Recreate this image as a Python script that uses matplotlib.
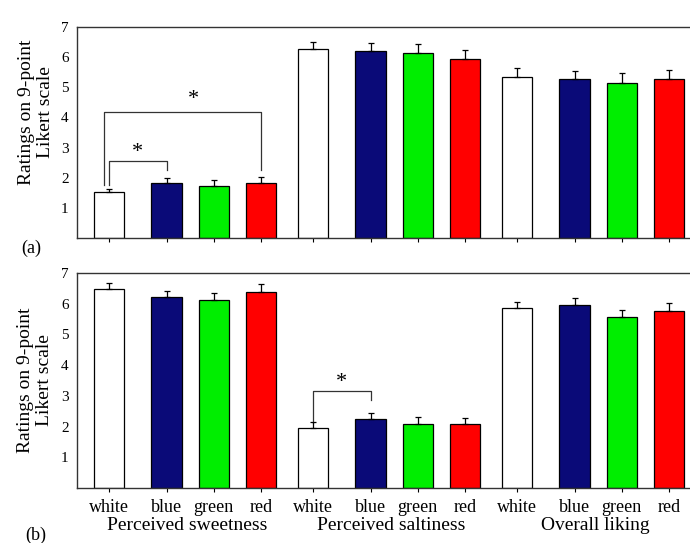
import matplotlib
matplotlib.use("Agg")
import matplotlib.pyplot as plt
from matplotlib.transforms import blended_transform_factory
import numpy as np

plt.rcParams['font.family'] = ['Liberation Serif', 'DejaVu Serif']

colors_names = ["white", "blue", "green", "red"]
groups = ["Perceived sweetness", "Perceived saltiness", "Overall liking"]
bar_colors = ["#ffffff", "#0a0a78", "#00ee00", "#ff0000"]

# Panel (a)
a_vals = [1.53, 1.83, 1.73, 1.83, 6.27, 6.20, 6.15, 5.95, 5.33, 5.27, 5.15, 5.27]
a_err = [0.10, 0.17, 0.20, 0.20, 0.23, 0.27, 0.28, 0.28, 0.30, 0.26, 0.32, 0.30]
# Panel (b)
b_vals = [6.48, 6.22, 6.12, 6.38, 1.95, 2.25, 2.10, 2.10, 5.85, 5.96, 5.57, 5.75]
b_err = [0.20, 0.20, 0.23, 0.26, 0.20, 0.20, 0.22, 0.17, 0.22, 0.22, 0.23, 0.26]

y_ticks = [1, 2, 3, 4, 5, 6, 7]

# layout positions
within = np.array([0.0, 1.22, 2.22, 3.22])
xpos = np.concatenate([g * 4.33 + within for g in range(3)])
width = 0.64

fig = plt.figure(figsize=(6.9, 5.43), dpi=100)
ax_a = fig.add_axes([77/690, 1 - 238/543, 1 - 77/690 + 0.002, (238 - 27)/543])
ax_b = fig.add_axes([77/690, 1 - 488/543, 1 - 77/690 + 0.002, (488 - 273)/543])

for ax, vals, err in [(ax_a, a_vals, a_err), (ax_b, b_vals, b_err)]:
    cols = bar_colors * 3
    ax.bar(xpos, vals, width=width, color=cols, edgecolor="black", linewidth=0.9, zorder=2)
    ax.errorbar(xpos, vals, yerr=[np.zeros(len(vals)), err], fmt="none",
                ecolor="black", elinewidth=0.9, capsize=2.5, capthick=0.9, zorder=3)
    ax.set_ylim(0, 7)
    ax.set_xlim(-0.68, 12.36)
    ax.set_yticks(y_ticks)
    ax.set_yticklabels([str(t) for t in y_ticks], fontsize=11)
    ax.tick_params(axis="y", length=0, pad=6)
    ax.set_xticks(xpos)
    ax.tick_params(axis="x", length=3, direction="out", width=0.8)
    ax.spines["right"].set_visible(False)
    for s in ["top", "left", "bottom"]:
        ax.spines[s].set_linewidth(1.0)
        ax.spines[s].set_color("#333333")

ax_a.set_xticklabels([])
ax_b.set_xticklabels(colors_names * 3, fontsize=13)
ax_b.tick_params(axis="x", pad=5)

trans = blended_transform_factory(ax_b.transData, fig.transFigure)
for g, name in enumerate(groups):
    cx = xpos[g*4:(g+1)*4].mean()
    fig.text(cx, 1 - 525/543, name, transform=trans, ha="center", va="center", fontsize=14)

ylab = "Ratings on 9-point\nLikert scale"
fig.text(36/690, 1 - 112/543, ylab, rotation=90, ha="center", va="center", fontsize=14, linespacing=1.15)
fig.text(35/690, 1 - 380/543, ylab, rotation=90, ha="center", va="center", fontsize=14, linespacing=1.15)
fig.text(31/690, 1 - 248/543, "(a)", ha="center", va="center", fontsize=13)
fig.text(36/690, 1 - 535/543, "(b)", ha="center", va="center", fontsize=13)

lw = 0.9
# panel (a) brackets
ax_a.plot([xpos[0], xpos[0], xpos[1], xpos[1]], [1.77, 2.57, 2.57, 2.27], color="#333333", lw=lw)
ax_a.text((xpos[0] + xpos[1]) / 2, 2.85, "*", ha="center", va="center", fontsize=16)
ax_a.plot([xpos[0] - 0.1, xpos[0] - 0.1, xpos[3], xpos[3]], [1.77, 4.17, 4.17, 2.27], color="#333333", lw=lw)
ax_a.text(1.79, 4.6, "*", ha="center", va="center", fontsize=16)
# panel (b) bracket
ax_b.plot([xpos[4], xpos[4], xpos[5], xpos[5]], [2.12, 3.16, 3.16, 2.87], color="#333333", lw=lw)
ax_b.text((xpos[4] + xpos[5]) / 2, 3.45, "*", ha="center", va="center", fontsize=16)

fig.savefig("out.png", dpi=100)
